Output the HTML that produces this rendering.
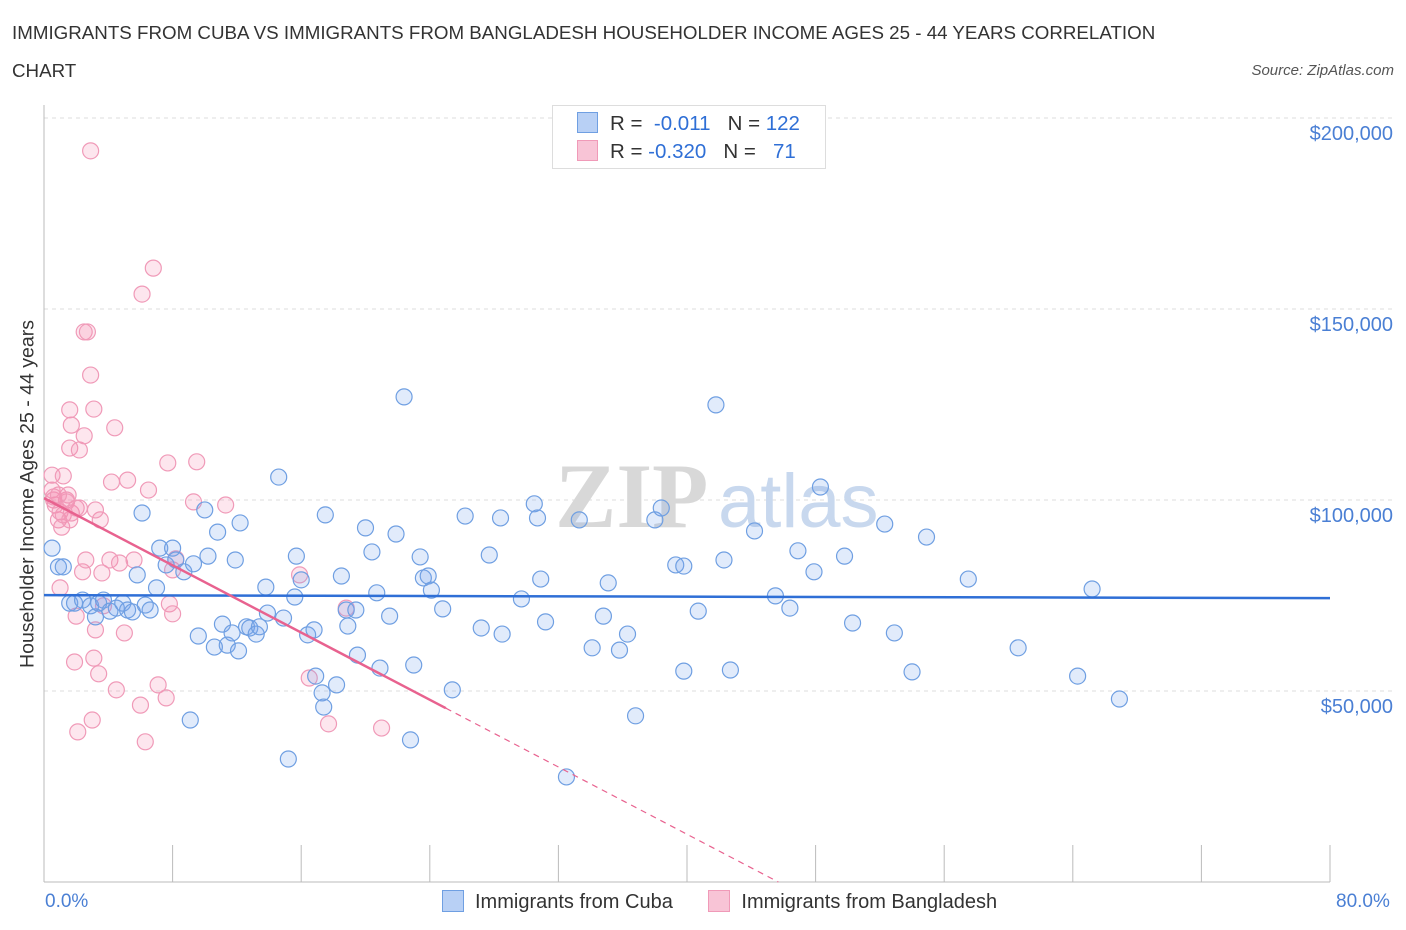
<!DOCTYPE html>
<html><head><meta charset="utf-8"><style>
body{margin:0;background:#fff;font-family:"Liberation Sans",sans-serif;}
#wrap{position:relative;width:1406px;height:930px;overflow:hidden;}
.t{position:absolute;white-space:nowrap;}
</style></head><body>
<div id="wrap">
<div class="t" style="left:12px;top:14px;font-size:18.75px;color:#333;line-height:38px;">IMMIGRANTS FROM CUBA VS IMMIGRANTS FROM BANGLADESH HOUSEHOLDER INCOME AGES 25 - 44 YEARS CORRELATION<br>CHART</div>
<div class="t" style="right:12px;top:62px;font-size:15px;font-style:italic;color:#555;">Source: ZipAtlas.com</div>
<svg id="svg" width="1406" height="930" style="position:absolute;left:0;top:0"></svg>
</div>
<script>
const blueX=[0.5,0.9,1.2,1.6,1.9,2.4,2.9,3.2,3.4,3.7,4.1,4.5,4.9,5.2,5.5,5.8,6.1,6.3,6.6,7.0,7.2,7.6,8.0,8.2,8.7,9.1,9.3,9.6,10.0,10.2,10.6,10.8,11.1,11.4,11.7,11.9,12.1,12.2,12.6,12.8,13.2,13.4,13.8,13.9,14.6,14.9,15.2,15.6,15.7,16.0,16.4,16.8,16.9,17.3,17.4,17.5,18.2,18.5,18.8,18.9,19.4,19.5,20.0,20.4,20.7,20.9,21.5,21.9,22.4,22.8,23.0,23.4,23.6,23.9,24.1,24.8,25.4,26.2,27.2,27.7,28.4,28.5,29.7,30.5,30.7,30.9,31.2,32.5,33.3,34.1,34.8,35.1,35.8,36.3,36.8,38.0,38.4,39.3,39.8,39.8,40.7,41.8,42.3,42.7,44.2,45.5,46.4,46.9,47.9,48.3,49.8,50.3,52.3,52.9,54.0,54.9,57.5,60.6,64.3,65.2,66.9];
const blueY=[87.4,82.5,82.5,73.0,73.0,73.8,72.3,69.4,73.0,73.8,70.9,71.7,73.0,71.2,70.7,80.4,96.6,72.5,71.2,77.0,87.4,83.0,87.4,84.3,81.2,42.4,83.3,64.4,97.4,85.3,61.5,91.6,67.5,62.0,65.2,84.3,60.5,94.0,66.8,66.5,64.9,66.8,77.2,70.4,106.0,69.1,32.2,74.6,85.3,79.1,64.7,66.0,53.9,49.5,45.8,96.1,51.6,80.1,71.2,67.0,71.2,59.4,92.7,86.4,75.7,56.0,69.6,91.1,127.0,37.2,56.8,85.1,79.6,80.1,76.4,71.5,50.3,95.8,66.5,85.6,95.3,64.9,74.1,99.0,95.3,79.3,68.1,27.5,94.8,61.3,69.6,78.3,60.7,64.9,43.5,94.8,97.9,83.0,82.7,55.2,70.9,124.9,84.3,55.5,91.9,74.9,71.7,86.7,81.2,103.4,85.3,67.8,93.7,65.2,55.0,90.3,79.3,61.3,53.9,76.7,47.9];
const pinkX=[0.5,0.5,0.6,0.7,0.9,1.0,1.1,1.2,1.2,1.4,1.5,1.6,1.7,1.9,1.7,1.6,1.6,2.0,2.1,2.2,2.4,2.5,2.5,2.6,2.7,2.9,3.0,3.1,3.1,3.2,3.4,3.5,3.6,3.7,4.1,4.2,4.4,4.5,4.7,5.0,5.2,5.6,6.0,6.1,6.3,6.5,6.8,7.1,7.6,7.7,7.8,8.0,8.0,8.2,9.3,9.5,11.3,15.9,16.5,17.7,18.8,21.0,2.9,1.0,0.6,1.4,2.0,2.2,0.9,3.2];
const pinkY=[106.5,102.6,100.0,98.7,94.8,96.9,92.9,106.3,96.1,100.0,101.3,94.8,96.6,57.6,119.6,123.6,113.6,69.6,39.3,113.1,81.2,116.8,144.0,84.3,144.0,132.7,42.4,123.8,58.6,66.0,54.5,94.8,80.9,72.3,84.3,104.7,118.9,50.3,83.5,65.2,105.2,84.3,46.3,153.9,36.7,102.6,160.7,51.6,48.2,109.7,72.8,81.7,70.2,84.6,99.5,110.0,98.7,80.4,53.4,41.4,71.7,40.3,191.4,77.0,100.8,99.5,97.9,97.9,101.3,97.4];
const yTicks=[50000,100000,150000,200000];
const yTickLabels=["$50,000","$100,000","$150,000","$200,000"];
const blueTrend=[75.1,74.3];
const pinkTrend=[100.5,-2.2];

const NS="http://www.w3.org/2000/svg";
const svg=document.getElementById('svg');
const X0=44,X1=1330,Y0=882;
const sx=v=>X0+(X1-X0)*v/80;
const sy=k=>Y0-k*(191/50);
function mk(tag,attrs,parent){const e=document.createElementNS(NS,tag);for(const k in attrs)e.setAttribute(k,attrs[k]);(parent||svg).appendChild(e);return e;}
yTicks.forEach((t,i)=>{
 const g=mk('line',{x1:X0,x2:1395,y1:sy(t/1000),y2:sy(t/1000),stroke:'#ddd','stroke-dasharray':'4,4'});
 
 
 const tx=mk('text',{x:1393,y:sy(t/1000)+22,'text-anchor':'end','font-size':20,fill:'#4a7fd4','font-family':'Liberation Sans'});
 tx.textContent=yTickLabels[i];
 
 
});
mk('line',{x1:X0,x2:X0,y1:105,y2:Y0,stroke:'#bbb'});
mk('line',{x1:X0,x2:X1,y1:Y0,y2:Y0,stroke:'#bbb'});
for(let i=0;i<=10;i++){mk('line',{x1:sx(i*8),x2:sx(i*8),y1:845,y2:Y0,stroke:'#bbb'});}
const wm=mk('text',{x:555,y:527,'font-size':92,fill:'#d8d8d8','font-family':'Liberation Serif','font-weight':'bold'});wm.textContent='ZIP';


const wm2=mk('text',{x:718,y:527,'font-size':76,fill:'#c8d8ee','font-family':'Liberation Sans'});wm2.textContent='atlas';


pinkX.forEach((x,i)=>{const c=mk('circle',{cx:sx(x),cy:sy(pinkY[i]),r:8,fill:'rgba(244,140,176,0.22)',stroke:'#f09ab8','stroke-width':1.2});
 
 });
blueX.forEach((x,i)=>{const c=mk('circle',{cx:sx(x),cy:sy(blueY[i]),r:8,fill:'rgba(120,165,235,0.22)',stroke:'#6f9fe2','stroke-width':1.2});
 
 });
const bl=mk('line',{x1:sx(0),x2:sx(80),y1:sy(blueTrend[0]),y2:sy(blueTrend[1]),stroke:'#2f6fd6','stroke-width':2.5});


const pe=25,pz=-pinkTrend[0]/pinkTrend[1];
const pl=mk('line',{x1:sx(0),x2:sx(pe),y1:sy(pinkTrend[0]),y2:sy(pinkTrend[0]+pinkTrend[1]*pe),stroke:'#e8628f','stroke-width':2.5});


const pd=mk('line',{x1:sx(pe),x2:sx(pz),y1:sy(pinkTrend[0]+pinkTrend[1]*pe),y2:sy(0),stroke:'#e8628f','stroke-width':1.2,'stroke-dasharray':'6,5'});


</script>
<div class="t" style="left:28px;top:494px;font-size:19.5px;color:#333;transform:translate(-50%,-50%) rotate(-90deg);">Householder Income Ages 25 - 44 years</div>
<div class="t" style="left:45px;top:891px;font-size:19px;color:#4a7fd4;">0.0%</div>
<div class="t" style="left:1336px;top:891px;font-size:19px;color:#4a7fd4;">80.0%</div>
<div style="position:absolute;left:552px;top:105px;width:272px;height:62px;border:1px solid #ddd;background:#fff;font-size:20.5px;color:#333;">
 <div style="position:absolute;left:24px;top:6px;white-space:nowrap;"><span style="display:inline-block;width:19px;height:19px;background:#b8d0f5;border:1px solid #6f9fe2;vertical-align:-3px;margin-right:12px"></span>R = &nbsp;<span style="color:#2f6fd6">-0.011</span> &nbsp;&nbsp;N = <span style="color:#2f6fd6">122</span></div>
 <div style="position:absolute;left:24px;top:34px;white-space:nowrap;"><span style="display:inline-block;width:19px;height:19px;background:#f8c4d6;border:1px solid #f09ab8;vertical-align:-3px;margin-right:12px"></span>R = <span style="color:#2f6fd6">-0.320</span> &nbsp;&nbsp;N = &nbsp;&nbsp;<span style="color:#2f6fd6">71</span></div>
</div>
<div style="position:absolute;left:442px;top:890px;font-size:20px;color:#333;white-space:nowrap;">
 <span><span style="display:inline-block;width:20px;height:20px;background:#b8d0f5;border:1px solid #6f9fe2;vertical-align:-4px;margin-right:11px"></span>Immigrants from Cuba</span>
 <span style="margin-left:30px"><span style="display:inline-block;width:20px;height:20px;background:#f8c4d6;border:1px solid #f09ab8;vertical-align:-4px;margin-right:11px"></span>Immigrants from Bangladesh</span>
</div>
</body></html>
